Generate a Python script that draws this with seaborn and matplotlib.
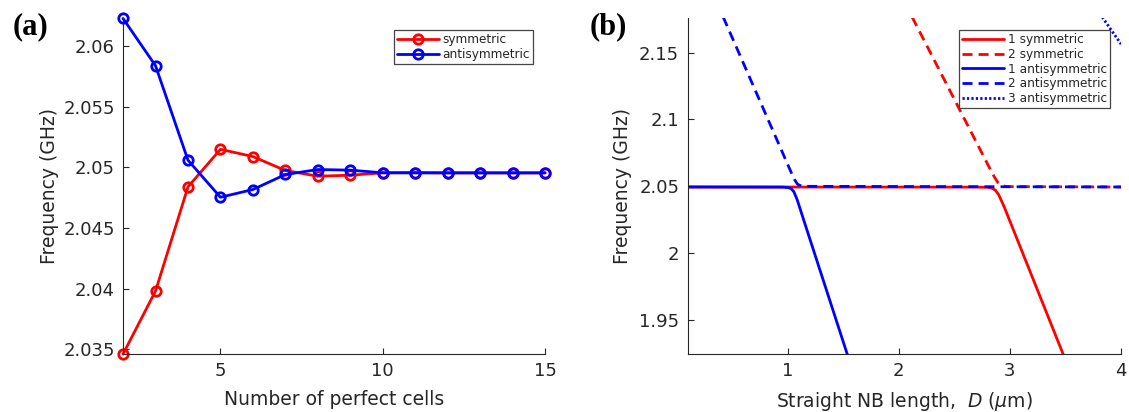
import numpy as np
import pandas as pd
import matplotlib
matplotlib.use("Agg")
import matplotlib.pyplot as plt
import seaborn as sns

# ── panel (a): frequency vs number of perfect cells ─────────────────────
cells = [2, 3, 4, 5, 6, 7, 8, 9, 10, 11, 12, 13, 14, 15]
sym_freq = [2.0346, 2.0398, 2.0484, 2.0515, 2.0509, 2.04975, 2.04928, 2.04936,
            2.04956, 2.04958, 2.04956, 2.04956, 2.04956, 2.04956]
anti_freq = [2.0623, 2.0584, 2.0506, 2.04754, 2.04818, 2.04942, 2.04983, 2.04978,
             2.04956, 2.04955, 2.04955, 2.04955, 2.04955, 2.04955]
a_yticks = [2.035, 2.04, 2.045, 2.05, 2.055, 2.06]
a_yticklabels = ["2.035", "2.04", "2.045", "2.05", "2.055", "2.06"]
a_xticks = [5, 10, 15]

# ── panel (b): frequency vs straight NB length ──────────────────────────
sym1_D = [0.1, 2.70, 2.80, 2.84, 2.87, 2.90, 2.95, 3.50]
sym1_f = [2.0495, 2.0494, 2.0492, 2.0486, 2.0470, 2.0435, 2.0343, 1.9200]
sym2_D = [2.12, 2.82, 2.86, 2.89, 2.93, 2.97, 4.0]
sym2_f = [2.1766, 2.0632, 2.0570, 2.0530, 2.0505, 2.0498, 2.0495]
anti1_D = [0.1, 0.95, 1.0, 1.03, 1.056, 1.086, 1.146, 1.55]
anti1_f = [2.0495, 2.0494, 2.0491, 2.0484, 2.0460, 2.0400, 2.0245, 1.9210]
anti2_D = [0.42, 1.03, 1.06, 1.09, 1.13, 4.0]
anti2_f = [2.1767, 2.0608, 2.0553, 2.0515, 2.0500, 2.0495]
anti3_D = [3.83, 4.0]
anti3_f = [2.1766, 2.1563]
b_xticks = [1, 2, 3, 4]
b_yticks = [1.95, 2.0, 2.05, 2.1, 2.15]
b_yticklabels = ["1.95", "2", "2.05", "2.1", "2.15"]

sns.set_theme(style="ticks")
plt.rcParams["font.family"] = ["DejaVu Sans"]
plt.rcParams["mathtext.fontset"] = "dejavusans"
dark = "#262626"

fig = plt.figure(figsize=(11.29, 4.12), dpi=100)
ax_a = fig.add_axes([0.109, 0.1408, 0.3738, 0.8143])
ax_b = fig.add_axes([0.609, 0.1408, 0.384, 0.8143])

dash = (0, (3.6, 2.2))
dot = (0, (0.8, 0.8))

# ── (a) ──────────────────────────────────────────────────────────────────
for vals, col, lab in [(sym_freq, "red", "symmetric"), (anti_freq, "blue", "antisymmetric")]:
    sns.lineplot(x=cells, y=vals, ax=ax_a, color=col, lw=2, marker="o", ms=6.8,
                 markerfacecolor="none", markeredgecolor=col, mew=2,
                 label=lab, clip_on=False)
ax_a.set_xlim(2, 15)
ax_a.set_ylim(2.0346, 2.0623)
ax_a.set_xticks(a_xticks)
ax_a.set_yticks(a_yticks)
ax_a.set_yticklabels(a_yticklabels)
ax_a.set_xlabel("Number of perfect cells", fontsize=13.5, color=dark, labelpad=7)
ax_a.set_ylabel("Frequency (GHz)", fontsize=13.5, color=dark, labelpad=3)

# ── (b) ──────────────────────────────────────────────────────────────────
curves = [
    (sym1_D, sym1_f, "red", "-", "1 symmetric"),
    (sym2_D, sym2_f, "red", dash, "2 symmetric"),
    (anti1_D, anti1_f, "blue", "-", "1 antisymmetric"),
    (anti2_D, anti2_f, "blue", dash, "2 antisymmetric"),
    (anti3_D, anti3_f, "blue", dot, "3 antisymmetric"),
]
for xs, ys, col, ls, lab in curves:
    sns.lineplot(x=xs, y=ys, ax=ax_b, color=col, lw=2, linestyle=ls, label=lab)
ax_b.set_xlim(0.1, 4)
ax_b.set_ylim(1.9246, 2.1755)
ax_b.set_xticks(b_xticks)
ax_b.set_yticks(b_yticks)
ax_b.set_yticklabels(b_yticklabels)
ax_b.set_xlabel(r"Straight NB length,  $D$ ($\mu$m)", fontsize=13.5, color=dark,
                labelpad=7)
ax_b.set_ylabel("Frequency (GHz)", fontsize=13.5, color=dark, labelpad=5)

for ax, anchor in [(ax_a, (0.9716, 0.9657)), (ax_b, (0.9746, 0.9657))]:
    sns.despine(ax=ax)
    for sp in ["left", "bottom"]:
        ax.spines[sp].set_color(dark)
        ax.spines[sp].set_linewidth(0.8)
    ax.tick_params(direction="in", length=4, width=0.8, colors=dark,
                   labelsize=13, labelcolor=dark, pad=6)
    leg = ax.legend(loc="upper right", bbox_to_anchor=anchor, fontsize=8.7,
                    handlelength=3.5, handletextpad=0.3, borderpad=0.25,
                    labelspacing=0.15, borderaxespad=0, fancybox=False,
                    framealpha=1, edgecolor="#444444")
    leg.get_frame().set_linewidth(0.9)

fig.text(0.0266, 0.934, "(a)", fontsize=22, fontweight="bold",
         family="Liberation Serif", ha="center", va="center", color="black")
fig.text(0.539, 0.934, "(b)", fontsize=22, fontweight="bold",
         family="Liberation Serif", ha="center", va="center", color="black")

fig.savefig("out.png", dpi=100)
